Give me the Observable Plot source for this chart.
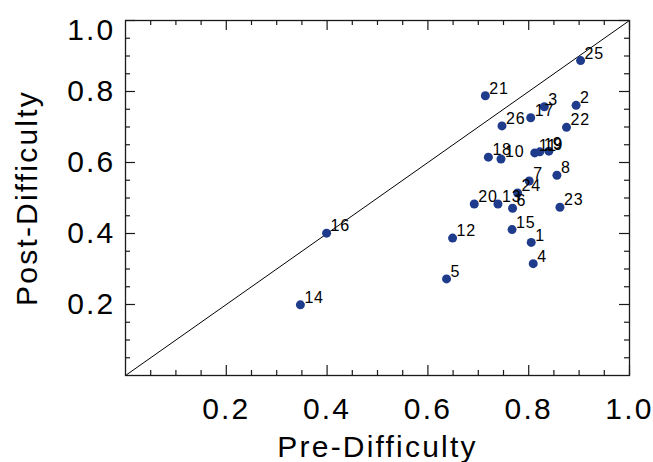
<!DOCTYPE html>
<html><head><meta charset="utf-8">
<script src="https://cdn.jsdelivr.net/npm/d3@7"></script>
<script src="https://cdn.jsdelivr.net/npm/@observablehq/plot@0.6"></script>
<style>
html,body{margin:0;padding:0;background:#fff;}
#chart svg{display:block;}
#chart g[aria-label^="x-axis"] text, #chart g[aria-label^="y-axis"] text {letter-spacing: 2.2px;}
#chart g[aria-label="text"] text {letter-spacing: 0.8px;}
</style></head><body><div id="chart"></div>
<script>
const ids  = ["1","2","3","4","5","6","7","8","9","10","11","12","13","14","15","16","17","18","19","20","21","22","23","24","25","26"];
const pre  = [0.805,0.894,0.831,0.809,0.637,0.768,0.801,0.856,0.840,0.745,0.812,0.649,0.739,0.347,0.767,0.399,0.804,0.720,0.822,0.692,0.714,0.875,0.862,0.778,0.903,0.747];
const post = [0.375,0.761,0.757,0.315,0.272,0.471,0.548,0.564,0.632,0.610,0.627,0.387,0.483,0.199,0.411,0.401,0.726,0.615,0.630,0.483,0.788,0.699,0.474,0.514,0.887,0.703];
const majorTicks = [0.2,0.4,0.6,0.8,1.0];
const yLabelsLow = [0.2,0.4,0.6,0.8];
const yLabelTop = [1.0];
const minorTicks = [0.05,0.1,0.15,0.25,0.3,0.35,0.45,0.5,0.55,0.65,0.7,0.75,0.85,0.9,0.95];
const diagonal = [0,1];

const W = 653, H = 462, mL = 125, mR = 24, mT = 20, mB = 87;
const pw = W - mL - mR, ph = H - mT - mB;
const data = ids.map((id, i) => ({id, pre: pre[i], post: post[i]}));
const ink = "#1a1a1a";
const fmt = d3.format(".1f");

const chart = Plot.plot({
  width: W, height: H,
  marginLeft: mL, marginRight: mR, marginTop: mT, marginBottom: mB,
  x: {domain: [0, 1]},
  y: {domain: [0, 1]},
  style: {fontFamily: "'Liberation Sans', Arial, Helvetica, sans-serif", color: "#000", background: "#fff"},
  marks: [
    Plot.line(diagonal, {x: d => d, y: d => d, stroke: "#000", strokeWidth: 1}),
    Plot.tickX(majorTicks, {x: d => d, insetTop: ph - 10, stroke: ink, strokeWidth: 1.2}),
    Plot.tickX(majorTicks, {x: d => d, insetBottom: ph - 10, stroke: ink, strokeWidth: 1.2}),
    Plot.tickX(minorTicks, {x: d => d, insetTop: ph - 5, stroke: ink, strokeWidth: 1.2}),
    Plot.tickX(minorTicks, {x: d => d, insetBottom: ph - 5, stroke: ink, strokeWidth: 1.2}),
    Plot.tickY(majorTicks, {y: d => d, insetRight: pw - 10, stroke: ink, strokeWidth: 1.2}),
    Plot.tickY(majorTicks, {y: d => d, insetLeft: pw - 10, stroke: ink, strokeWidth: 1.2}),
    Plot.tickY(minorTicks, {y: d => d, insetRight: pw - 5, stroke: ink, strokeWidth: 1.2}),
    Plot.tickY(minorTicks, {y: d => d, insetLeft: pw - 5, stroke: ink, strokeWidth: 1.2}),
    Plot.frame({stroke: ink, strokeWidth: 1.3}),
    Plot.axisX(majorTicks, {tickSize: 0, tickPadding: 22, tickFormat: fmt, fontSize: 30,
      label: "Pre-Difficulty", labelAnchor: "center", labelArrow: "none", labelOffset: 81}),
    Plot.axisY(yLabelsLow, {tickSize: 0, tickPadding: 10, tickFormat: fmt, fontSize: 30,
      label: "Post-Difficulty", labelAnchor: "center", labelArrow: "none", labelOffset: 110}),
    Plot.axisY(yLabelTop, {tickSize: 0, tickPadding: 10, tickFormat: fmt, fontSize: 30, dy: 10, label: null}),
    Plot.dot(data, {x: "pre", y: "post", r: 4.5, fill: "#1f3c8c", stroke: "none"}),
    Plot.text(data, {x: "pre", y: "post", text: "id", textAnchor: "start", dx: 4, dy: -7, fontSize: 16, fill: "#000"})
  ]
});
document.getElementById("chart").appendChild(chart);
</script>
</body></html>
